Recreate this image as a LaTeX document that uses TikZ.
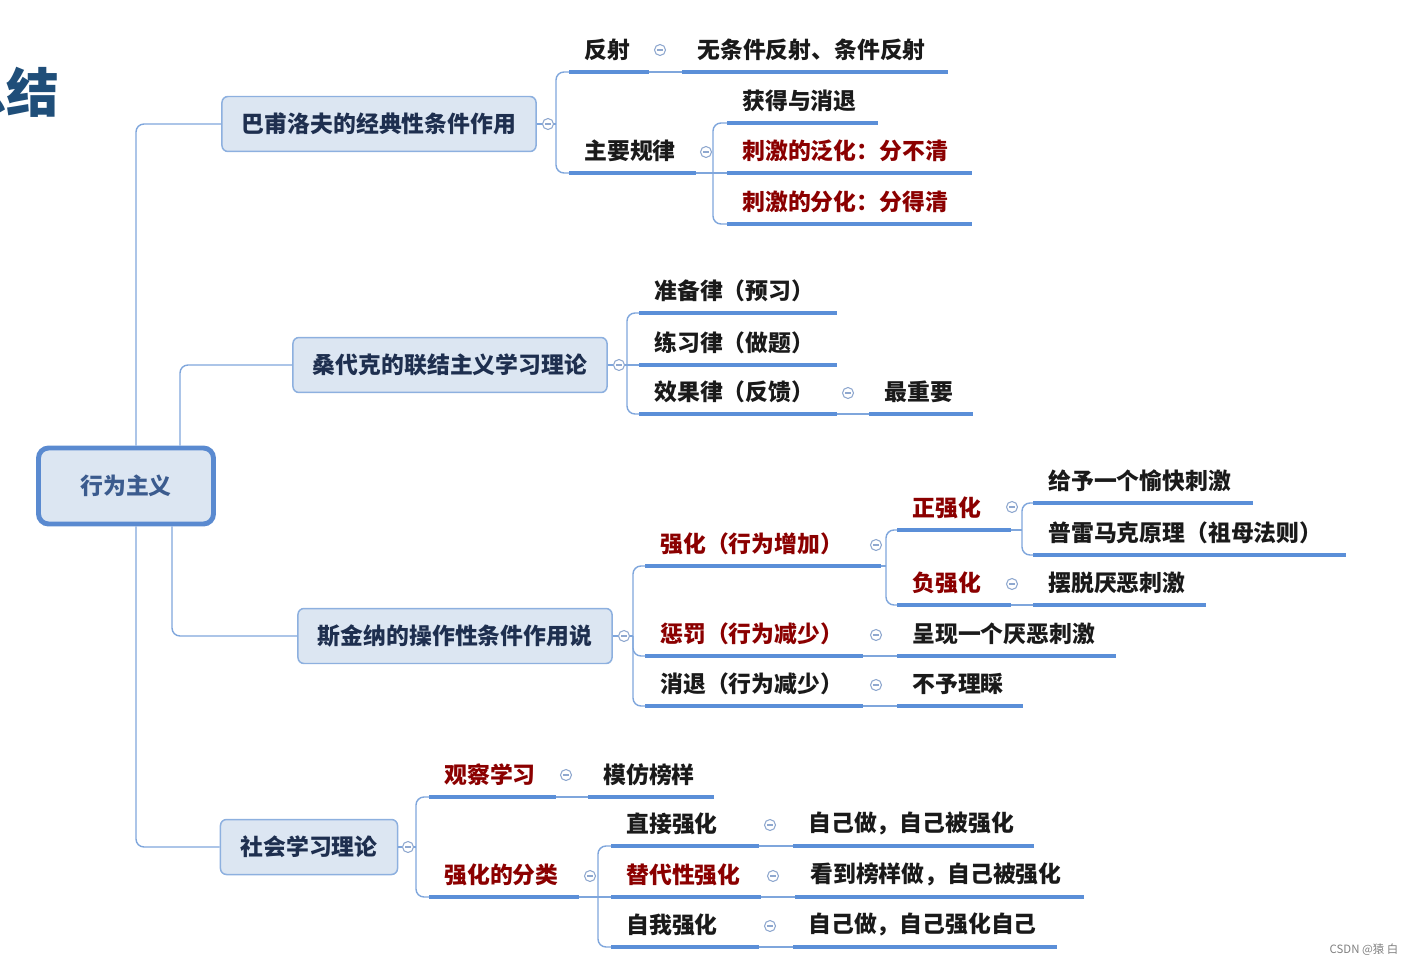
\documentclass[tikz,border=0pt]{standalone}
\usepackage{fontspec}
\setmainfont{Noto Sans CJK SC}
\usetikzlibrary{positioning, calc}
\definecolor{linec}{HTML}{7FA6DC}
\definecolor{ulc}{HTML}{5B8FD8}
\definecolor{boxfill}{HTML}{DCE6F2}
\definecolor{boxdraw}{HTML}{8DB0DF}
\definecolor{rootdraw}{HTML}{5A8AD0}
\definecolor{topictext}{HTML}{1E2F4F}
\definecolor{roottext}{HTML}{3B5B8E}
\definecolor{titlec}{HTML}{1F4E79}
\definecolor{redtext}{HTML}{8B0000}
\definecolor{blacktext}{HTML}{1A1A1A}
\definecolor{foldc}{HTML}{8FA8CF}

\begin{document}
\begin{tikzpicture}[
    x=0.02cm, y=-0.02cm,
    every node/.style={font=\bfseries\fontsize{13pt}{15pt}\selectfont},
    root/.style={
        rectangle, rounded corners=0.2cm, draw=rootdraw, line width=2.8pt,
        fill=boxfill, text=roottext, minimum width=3.5cm, minimum height=1.52cm,
    },
    topic/.style={
        rectangle, rounded corners=0.12cm, draw=boxdraw, line width=0.85pt,
        fill=boxfill, text=topictext, minimum height=1.1cm, inner xsep=0.4cm,
    },
    item/.style={
        anchor=south west, inner xsep=0.3cm, inner ysep=0pt,
        minimum height=0.88cm, text width=#1, align=left, text=blacktext,
    },
    hot/.style={text=redtext},
    fold/.style={
        circle, draw=foldc, line width=0.6pt, fill=white,
        minimum size=0.22cm, inner sep=0pt,
        path picture={\draw[foldc, line width=0.6pt]
            ([xshift=-0.055cm]path picture bounding box.center) --
            ([xshift=0.055cm]path picture bounding box.center);},
    },
    conn/.style={draw=linec, line width=0.8pt, rounded corners=0.16cm},
    uline/.style={draw=ulc, line width=2pt},
]
\useasboundingbox (0,0) rectangle (1416,966);
\clip (0,0) rectangle (1416,966);

% ================================================ title and root
\node[font=\bfseries\fontsize{30pt}{33pt}\selectfont, text=titlec, anchor=east]
    (title) at (65,92) {总结};
\node[root] (root) at (126,486) {行为主义};

% ================================================ branch 1: Pavlov
\node[topic] (pav) at (379,124) {巴甫洛夫的经典性条件作用};
\node[fold] (opav) at (548,124) {};
\coordinate (v1) at (556,124);
\node[item=0.98cm] (fs) at (569,72) {反射};
\node[fold] (ofs) at (660,50) {};
\node[item=4.70cm] (wtj) at (682,72) {无条件反射、条件反射};
\node[item=1.92cm] (zygl) at (569,173) {主要规律};
\node[fold] (ozygl) at (706,152) {};
\coordinate (v2) at (713,173);
\node[item=2.40cm] (hyxt) at (727,123) {获得与消退};
\node[item=4.28cm, hot] (fh) at (727,173) {刺激的泛化：分不清};
\node[item=4.28cm, hot] (fenh) at (727,224) {刺激的分化：分得清};

% ================================================ branch 2: Thorndike
\node[topic] (thd) at (450,365) {桑代克的联结主义学习理论};
\node[fold] (othd) at (619,365) {};
\coordinate (v3) at (627,365);
\node[item=3.34cm] (zbl) at (639,313) {准备律（预习）};
\node[item=3.34cm] (lxl) at (639,365) {练习律（做题）};
\node[item=3.34cm] (xgl) at (639,414) {效果律（反馈）};
\node[fold] (oxgl) at (848,393) {};
\node[item=1.46cm] (zzy) at (869,414) {最重要};

% ================================================ branch 3: Skinner
\node[topic] (sjn) at (455,636) {斯金纳的操作性条件作用说};
\node[fold] (osjn) at (624,636) {};
\coordinate (v4) at (633,636);
\node[item=4.10cm, hot] (qh) at (645,566) {强化（行为增加）};
\node[fold] (oqh) at (876,545) {};
\coordinate (v5) at (886,566);
\node[item=1.66cm, hot] (zqh) at (897,530) {正强化};
\node[fold] (ozqh) at (1012,507) {};
\coordinate (v6) at (1022,530);
\node[item=3.78cm] (gy) at (1033,503) {给予一个愉快刺激};
\node[item=5.64cm] (pl) at (1033,555) {普雷马克原理（祖母法则）};
\node[item=1.66cm, hot] (fqh) at (897,605) {负强化};
\node[fold] (ofqh) at (1012,584) {};
\node[item=2.84cm] (bt) at (1033,605) {摆脱厌恶刺激};
\node[item=3.74cm, hot] (cf) at (645,656) {惩罚（行为减少）};
\node[fold] (ocf) at (876,635) {};
\node[item=3.76cm] (cx) at (897,656) {呈现一个厌恶刺激};
\node[item=3.74cm] (xt) at (645,706) {消退（行为减少）};
\node[fold] (oxt) at (876,685) {};
\node[item=1.90cm] (bylc) at (897,706) {不予理睬};

% ================================================ branch 4: social learning
\node[topic] (sh) at (309,847) {社会学习理论};
\node[fold] (osh) at (408,847) {};
\coordinate (v7) at (416,847);
\node[item=1.92cm, hot] (gcxx) at (429,797) {观察学习};
\node[fold] (ogcxx) at (566,775) {};
\node[item=1.90cm] (mfby) at (588,797) {模仿榜样};
\node[item=2.38cm, hot] (qhfl) at (429,897) {强化的分类};
\node[fold] (oqhfl) at (590,876) {};
\coordinate (v8) at (598,897);
\node[item=2.34cm] (zjqh) at (611,846) {直接强化};
\node[fold] (ozjqh) at (770,825) {};
\node[item=4.20cm] (zjz1) at (793,846) {自己做，自己被强化};
\node[item=2.38cm, hot] (tdx) at (611,897) {替代性强化};
\node[fold] (otdx) at (773,876) {};
\node[item=5.16cm] (kdby) at (795,897) {看到榜样做，自己被强化};
\node[item=2.34cm] (zwqh) at (611,947) {自我强化};
\node[fold] (ozwqh) at (770,926) {};
\node[item=4.66cm] (zjz2) at (793,947) {自己做，自己强化自己};

% underlines
\foreach \n in {fs,wtj,zygl,hyxt,fh,fenh,zbl,lxl,xgl,zzy,qh,zqh,gy,pl,fqh,bt,
                cf,cx,xt,bylc,gcxx,mfby,qhfl,zjqh,tdx,zwqh,zjz1,kdby,zjz2}
    \draw[uline] (\n.south west) -- (\n.south east);

% ================================================ connectors
\draw[conn] (pav.west) -| ([xshift=0.2cm]root.north);
\draw[conn] (thd.west) -| ([xshift=1.08cm]root.north);
\draw[conn] (sjn.west) -| ([xshift=0.92cm]root.south);
\draw[conn] (sh.west) -| ([xshift=0.2cm]root.south);

\draw[conn] (pav.east) -- (opav.west);
\draw[conn] (opav.east) -- (v1);
\draw[conn] (fs.south west) -| (v1) |- (zygl.south west);
\draw[conn] (fs.south east) -- (wtj.south west);
\draw[conn] (zygl.south east) -- (fh.south west);
\draw[conn] (hyxt.south west) -| (v2) |- (fenh.south west);

\draw[conn] (thd.east) -- (othd.west);
\draw[conn] (othd.east) -- (v3);
\draw[conn] (zbl.south west) -| (v3) |- (xgl.south west);
\draw[conn] (v3) -- (lxl.south west);
\draw[conn] (xgl.south east) -- (zzy.south west);

\draw[conn] (sjn.east) -- (osjn.west);
\draw[conn] (osjn.east) -- (v4);
\draw[conn] (qh.south west) -| (v4) |- (xt.south west);
\draw[conn] (v4) |- (cf.south west);
\draw[conn] (qh.south east) -- (v5);
\draw[conn] (zqh.south west) -| (v5) |- (fqh.south west);
\draw[conn] (zqh.south east) -- (v6);
\draw[conn] (gy.south west) -| (v6) |- (pl.south west);
\draw[conn] (fqh.south east) -- (bt.south west);
\draw[conn] (cf.south east) -- (cx.south west);
\draw[conn] (xt.south east) -- (bylc.south west);

\draw[conn] (sh.east) -- (osh.west);
\draw[conn] (osh.east) -- (v7);
\draw[conn] (gcxx.south west) -| (v7) |- (qhfl.south west);
\draw[conn] (gcxx.south east) -- (mfby.south west);
\draw[conn] (qhfl.south east) -- (v8);
\draw[conn] (zjqh.south west) -| (v8) |- (zwqh.south west);
\draw[conn] (v8) -- (tdx.south west);
\draw[conn] (zjqh.south east) -- (zjz1.south west);
\draw[conn] (tdx.south east) -- (kdby.south west);
\draw[conn] (zwqh.south east) -- (zjz2.south west);

% watermark
\node[font=\fontsize{6.5pt}{8pt}\selectfont, text=gray] (mark) at (1364,950) {CSDN @猿 白};

\end{tikzpicture}
\end{document}
